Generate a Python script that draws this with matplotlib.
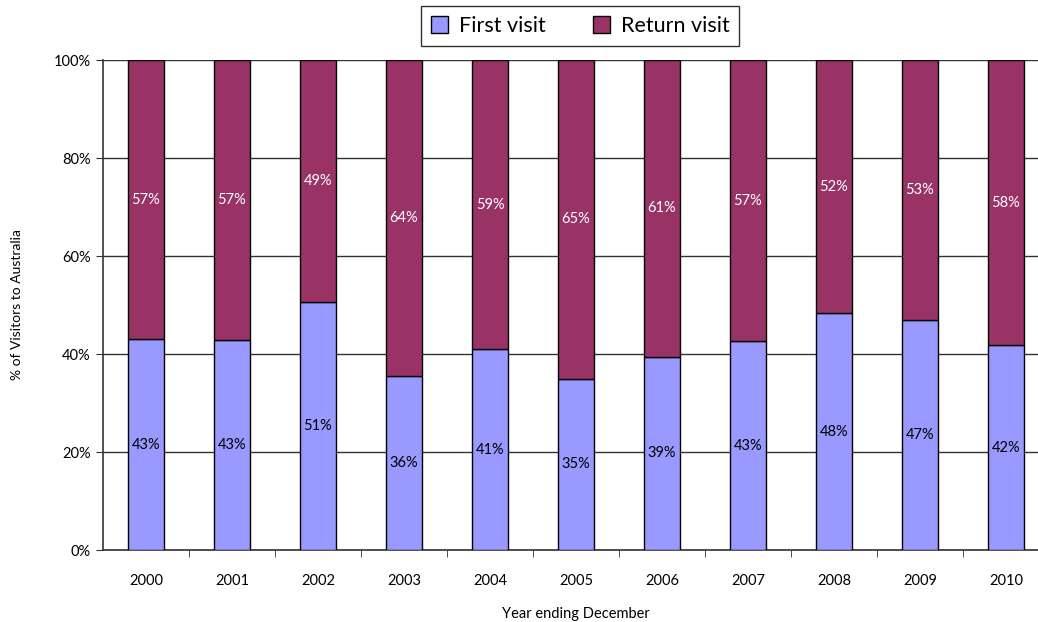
import matplotlib.pyplot as plt
import numpy as np

# Data (share of visitors, %)
years = ['2000', '2001', '2002', '2003', '2004', '2005', '2006', '2007', '2008', '2009', '2010']
first_visit = [43.0, 42.8, 50.6, 35.6, 41.0, 35.0, 39.4, 42.6, 48.3, 46.9, 41.8]
return_visit = [100 - v for v in first_visit]

plt.rcParams['font.family'] = ['Lato', 'DejaVu Sans']

fig = plt.figure(figsize=(10.38, 6.22), dpi=100)
ax = fig.add_axes([103 / 1038, 72 / 622, 946 / 1038, 490 / 622])

x = np.arange(len(years))
w = 0.41
ax.bar(x, first_visit, w, color='#9999FF', edgecolor='black', linewidth=1,
       label='First visit', zorder=3)
ax.bar(x, return_visit, w, bottom=first_visit, color='#993366', edgecolor='black',
       linewidth=1, label='Return visit', zorder=3)

# value labels centred in each segment
for i in range(len(years)):
    ax.text(x[i], first_visit[i] / 2, f'{round(first_visit[i])}%', ha='center', va='center',
            fontsize=10.5, color='black', zorder=4)
    ax.text(x[i], first_visit[i] + return_visit[i] / 2, f'{round(return_visit[i])}%',
            ha='center', va='center', fontsize=10.5, color='white', zorder=4)

ax.set_xlim(-0.5, len(years) - 0.5)
ax.set_ylim(0, 100)
ax.set_yticks(np.arange(0, 101, 20))
ax.set_yticklabels([f'{t}%' for t in range(0, 101, 20)], fontsize=10.5)
ax.set_xticks(x)
ax.set_xticklabels(years, fontsize=10.5)
ax.tick_params(axis='x', length=0, pad=17)
ax.set_xticks(np.arange(0.5, len(years) - 0.5, 1), minor=True)
ax.tick_params(axis='x', which='minor', length=5, color='#333333', direction='out')
ax.tick_params(axis='y', length=5, color='#333333', direction='out', pad=4)

ax.yaxis.grid(True, color='#333333', linewidth=1)
ax.set_axisbelow(True)
for s in ['top', 'right']:
    ax.spines[s].set_visible(False)
ax.spines['left'].set_color('#333333')
ax.spines['bottom'].set_color('#333333')
ax.spines['left'].set_linewidth(1.2)
ax.spines['bottom'].set_linewidth(1.2)

ax.set_ylabel('% of Visitors to Australia', fontsize=10, labelpad=22)
ax.set_xlabel('Year ending December', fontsize=10.5, labelpad=14)

leg = fig.legend(loc='upper center', bbox_to_anchor=(580 / 1038, 1 - 2 / 622), ncol=2,
                 fontsize=15.5, frameon=True, fancybox=False, edgecolor='black',
                 handlelength=0.8, handleheight=0.8, columnspacing=2.2, borderpad=0.45,
                 handletextpad=0.5, borderaxespad=0.2)
leg.get_frame().set_linewidth(1)

fig.savefig('out.png', dpi=100)
